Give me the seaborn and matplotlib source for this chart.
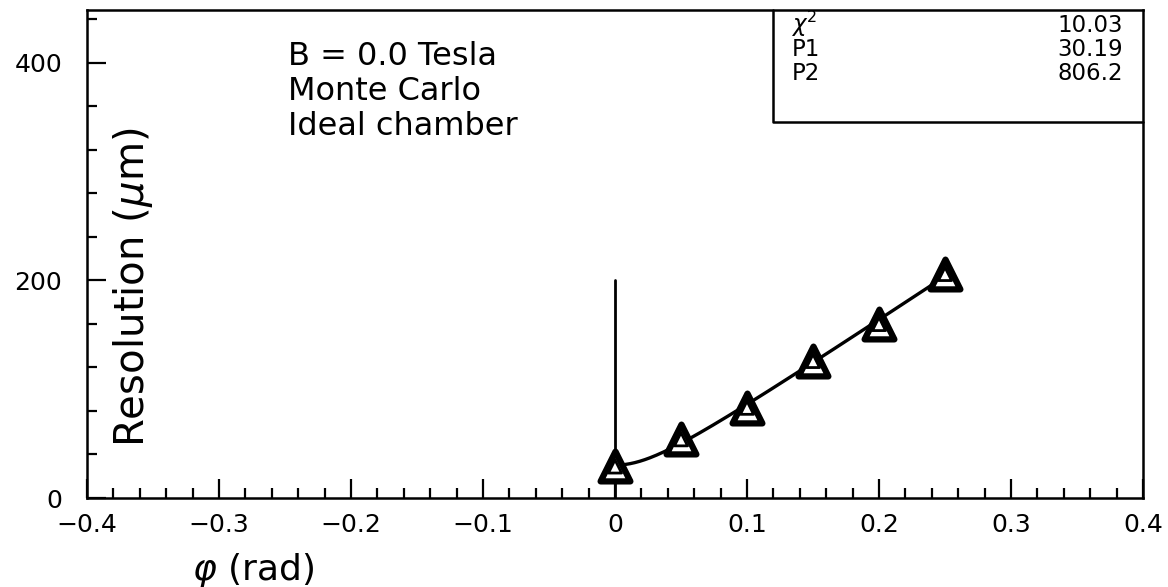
import numpy as np
import pandas as pd
import matplotlib
matplotlib.use("Agg")
import matplotlib.pyplot as plt
from matplotlib.ticker import MultipleLocator
import seaborn as sns

# Measured resolution vs. track angle
phi = [0.0, 0.05, 0.10, 0.15, 0.20, 0.25]
resolution = [29, 54, 83, 126, 160, 206]

# Fit results: sigma(phi) = sqrt(P1^2 + (P2*phi)^2)
chi2 = 10.03
p1 = 30.19
p2 = 806.2
fit_range = [0.0, 0.25]

# Vertical reference line at phi = 0
ref_x = 0.0
ref_top = 200

x_ticks = [-0.4, -0.3, -0.2, -0.1, 0.0, 0.1, 0.2, 0.3, 0.4]
x_tick_labels = ["\u22120.4", "\u22120.3", "\u22120.2", "\u22120.1", "0", "0.1", "0.2", "0.3", "0.4"]
y_ticks = [0, 200, 400]
y_tick_labels = ["0", "200", "400"]

info_lines = ["B = 0.0 Tesla", "Monte Carlo", "Ideal chamber"]

sns.set_style("white")
plt.rcParams["font.family"] = ["DejaVu Sans"]

fig = plt.figure(figsize=(11.68, 5.87), dpi=100)
ax = fig.add_axes([87 / 1168, 89 / 587, 1056 / 1168, 488 / 587])

# fitted curve
fx = np.linspace(fit_range[0], fit_range[1], 200)
fit_df = pd.DataFrame({"phi": fx, "sigma": np.sqrt(p1 ** 2 + (p2 * fx) ** 2)})
sns.lineplot(data=fit_df, x="phi", y="sigma", ax=ax, color="black", lw=2.4, zorder=3)

ax.plot([ref_x, ref_x], [0, ref_top], color="black", lw=2.0, zorder=3)

# data points: heavy open triangles with an inner outline
pts = pd.DataFrame({"phi": phi, "res": resolution})
sns.scatterplot(data=pts, x="phi", y="res", ax=ax, marker="^", s=460,
                facecolor="white", edgecolor="black", linewidth=4.5, zorder=4)
sns.scatterplot(data=pts, x="phi", y="res", ax=ax, marker="^", s=90,
                facecolor="none", edgecolor="black", linewidth=2.0, zorder=5)

ax.set_xlim(-0.4, 0.4)
ax.set_ylim(0, 448.7)
ax.set_xticks(x_ticks)
ax.set_xticklabels(x_tick_labels)
ax.set_yticks(y_ticks)
ax.set_yticklabels(y_tick_labels)
ax.xaxis.set_minor_locator(MultipleLocator(0.02))
ax.yaxis.set_minor_locator(MultipleLocator(40))
ax.tick_params(axis="both", which="both", bottom=True, left=True, top=False, right=False)
ax.tick_params(axis="both", which="major", direction="in", length=14, width=1.6,
               labelsize=18, color="black", labelcolor="black")
ax.tick_params(axis="both", which="minor", direction="in", length=7, width=1.6, color="black")
ax.tick_params(axis="x", which="major", pad=11)
ax.tick_params(axis="y", which="major", pad=18)
for s in ax.spines.values():
    s.set_visible(True)
    s.set_color("black")
    s.set_linewidth(1.8)

ax.set_xlabel("")
ax.set_ylabel("")

# axis titles drawn inside / below the frame
ax.text(0.0436, 0.432, "Resolution ($\\mu$m)", transform=ax.transAxes, rotation=90,
        ha="center", va="center", fontsize=29, color="black")
ax.text(0.0994, -0.168, "$\\varphi$ (rad)", transform=ax.transAxes,
        ha="left", va="baseline", fontsize=26, color="black")

# run description
for i, line in enumerate(info_lines):
    ax.text(0.190, 0.887 - i * 0.0717, line, transform=ax.transAxes,
            ha="left", va="baseline", fontsize=23, color="black")

# fit statistics box
bx0, by0 = 0.6496, 0.7705
ax.plot([bx0, bx0, 1.0], [1.0, by0, by0], transform=ax.transAxes,
        color="black", lw=1.8, clip_on=False, zorder=6)
stat_names = ["$\\chi^2$", "P1", "P2"]
stat_vals = [f"{chi2:.2f}", f"{p1:.2f}", f"{p2:.1f}"]
stat_y = [0.955, 0.906, 0.857]
for nm, val, yy in zip(stat_names, stat_vals, stat_y):
    ax.text(0.667, yy, nm, transform=ax.transAxes, ha="left", va="baseline",
            fontsize=16.5, color="black")
    ax.text(0.981, yy, val, transform=ax.transAxes, ha="right", va="baseline",
            fontsize=16.5, color="black")

fig.savefig("out.png", dpi=100)
